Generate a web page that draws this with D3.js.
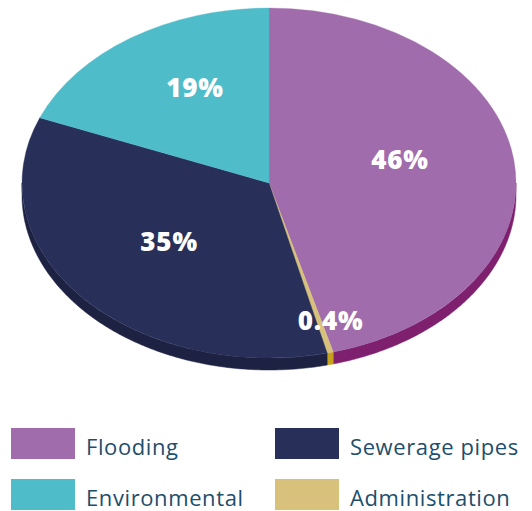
<!DOCTYPE html>
<html><head><meta charset="utf-8">
<script src="https://cdn.jsdelivr.net/npm/d3@7"></script>
<style>html,body{margin:0;padding:0;background:#fff;}svg{display:block;}</style>
</head><body>
<svg id="chart" width="532" height="511"></svg>
<script>
// Data
const categories = ["Flooding", "Administration", "Sewerage pipes", "Environmental"];
const values = [46, 0.4, 35, 19];
const labels = ["46%", "0.4%", "35%", "19%"];
const topColors = ["#a06cab", "#d7c17b", "#283059", "#4fbcca"];
const sideColors = ["#7f206f", "#c7a11c", "#1e2242", "#3a98a5"];
const legendOrder = ["Flooding", "Sewerage pipes", "Environmental", "Administration"];

const W = 532, H = 511;
const cx = 269, cy = 183, rx = 247, ry = 175, depth = 12;
const svg = d3.select("#chart");

const data = categories.map((c, i) => ({cat: c, value: values[i], label: labels[i], top: topColors[i], side: sideColors[i]}));
const pie = d3.pie().sort(null).value(d => d.value);
const arcs = pie(data);

const pt = (a, dy = 0) => [cx + rx * Math.sin(a), cy - ry * Math.cos(a) + dy];

// side walls (front half only: angles between PI/2 and 3PI/2)
const gSide = svg.append("g");
arcs.forEach(a => {
  const s = Math.max(a.startAngle, Math.PI / 2), e = Math.min(a.endAngle, 3 * Math.PI / 2);
  if (e <= s) return;
  const n = Math.max(4, Math.ceil((e - s) / 0.01));
  const ang = d3.range(n + 1).map(i => s + (e - s) * i / n);
  const topPts = ang.map(t => pt(t));
  const botPts = ang.slice().reverse().map(t => pt(t, depth));
  gSide.append("path")
    .attr("d", d3.line()(topPts.concat(botPts)) + "Z")
    .attr("fill", a.data.side)
    .attr("stroke", a.data.side).attr("stroke-width", 0.5);
});

// top faces
const arcGen = d3.arc().innerRadius(0).outerRadius(rx);
const gTop = svg.append("g").attr("transform", `translate(${cx},${cy}) scale(1,${ry / rx})`);
gTop.selectAll("path").data(arcs).join("path")
  .attr("d", arcGen)
  .attr("fill", d => d.data.top)
  .attr("stroke", d => d.data.top).attr("stroke-width", 0.4);

// labels
const gLab = svg.append("g");
arcs.forEach(a => {
  const m = (a.startAngle + a.endAngle) / 2;
  const small = (a.endAngle - a.startAngle) < 0.1;
  const kx = small ? 0.81 : 0.535, ky = small ? 0.81 : 0.59;
  const x = cx + rx * kx * Math.sin(m) + (small ? 12 : 0);
  const y = (small ? cy : cy - 10) - ry * ky * Math.cos(m);
  gLab.append("text")
    .attr("x", x).attr("y", y)
    .attr("text-anchor", "middle").attr("dominant-baseline", "central")
    .attr("fill", "#fff")
    .attr("font-family", "'Open Sans', sans-serif")
    .attr("font-weight", 800).attr("font-size", 26)
    .attr("letter-spacing", 0.8)
    .text(a.data.label);
});

// legend
const colorOf = Object.fromEntries(data.map(d => [d.cat, d.top]));
const legX = [11, 275], legY = [428, 479];
const gLeg = svg.append("g");
legendOrder.forEach((c, i) => {
  const col = i % 2, row = Math.floor(i / 2);
  gLeg.append("rect").attr("x", legX[col]).attr("y", legY[row])
    .attr("width", 64).attr("height", 31).attr("fill", colorOf[c]);
  gLeg.append("text").attr("x", legX[col] + 75).attr("y", legY[row] + 27)
    .attr("fill", "#1d4e6b")
    .attr("font-family", "'Open Sans', sans-serif").attr("font-size", 22)
    .attr("letter-spacing", 0.6)
    .text(c);
});
</script>
</body></html>
